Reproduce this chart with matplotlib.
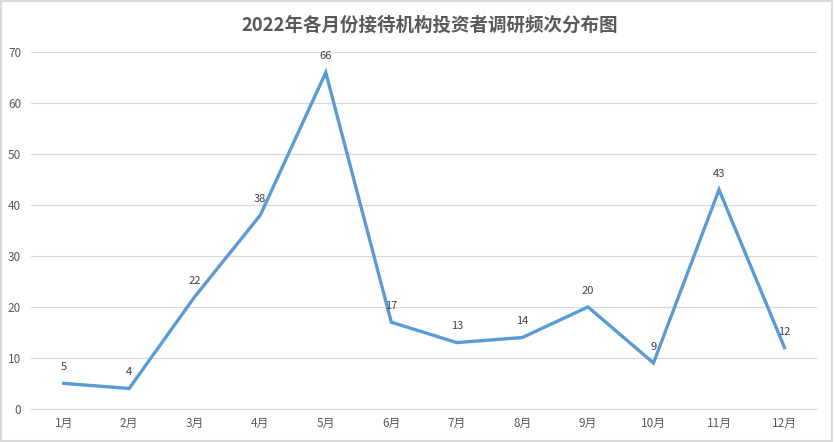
import matplotlib.pyplot as plt
from matplotlib.patches import Rectangle

plt.rcParams['font.family'] = ['Noto Sans CJK SC', 'DejaVu Sans']

months = ["1月", "2月", "3月", "4月", "5月", "6月", "7月", "8月", "9月", "10月", "11月", "12月"]
counts = [5, 4, 22, 38, 66, 17, 13, 14, 20, 9, 43, 12]

fig = plt.figure(figsize=(8.34, 4.42), dpi=100)
ax = fig.add_axes([0.037, 0.075, 0.943, 0.807])

x = list(range(len(months)))
ax.plot(x, counts, color="#5B9BD5", linewidth=2.4, solid_joinstyle="miter")

for xi, v in zip(x, counts):
    ax.annotate(str(v), (xi, v), xytext=(0, 8), textcoords="offset points",
                ha="center", va="bottom", fontsize=8, color="#404040")

ax.set_xlim(-0.5, len(months) - 0.5)
ax.set_ylim(0, 70)
ax.set_yticks(range(0, 71, 10))
ax.set_xticks(x)
ax.set_xticklabels(months)
ax.tick_params(axis="both", length=0, labelsize=8.5, colors="#595959")
ax.tick_params(axis="x", pad=6)
ax.tick_params(axis="y", pad=7)
ax.grid(axis="y", color="#D9D9D9", linewidth=0.9)
ax.set_axisbelow(True)
for side in ["top", "right", "left"]:
    ax.spines[side].set_visible(False)
ax.spines["bottom"].set_color("#D9D9D9")

fig.text(0.515, 0.943, "2022年各月份接待机构投资者调研频次分布图", ha="center", va="center",
         fontsize=13.3, fontweight="bold", color="#595959")

fig.patches.append(Rectangle((0.001, 0.002), 0.997, 0.995, transform=fig.transFigure,
                             fill=False, edgecolor="#D9D9D9", linewidth=1.5))

fig.savefig("out.png", dpi=100)
